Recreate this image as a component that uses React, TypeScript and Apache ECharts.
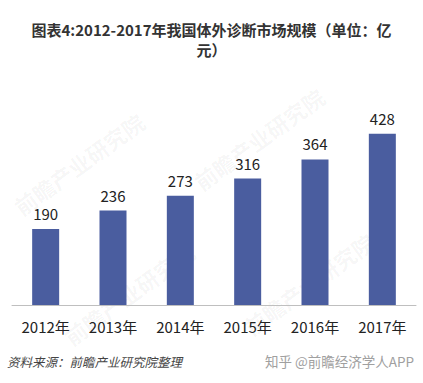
import React, { useEffect, useRef } from "react";
import * as echarts from "echarts";

const categories = ["2012年", "2013年", "2014年", "2015年", "2016年", "2017年"];
const values = [190, 236, 273, 316, 364, 428];
const titleText = "图表4:2012-2017年我国体外诊断市场规模（单位：亿\n元）";
const sourceText = "资料来源：前瞻产业研究院整理";
const creditText = "知乎 @前瞻经济学人APP";
const watermarkText = "前瞻产业研究院";

export default function App() {
  const ref = useRef<HTMLDivElement>(null);
  useEffect(() => {
    if (!ref.current) return;
    const chart = echarts.init(ref.current, null, { renderer: "svg" });
    const font = "'Noto Sans CJK SC', 'Noto Sans', sans-serif";
    const wm = (x: number, y: number) => ({
      type: "text",
      x,
      y,
      rotation: Math.PI / 5,
      silent: true,
      z: -10,
      style: {
        text: watermarkText,
        fill: "rgba(0,0,0,0.045)",
        font: `bold 22px ${font}`,
      },
    });
    chart.setOption({
      animation: false,
      backgroundColor: "#ffffff",
      title: {
        text: titleText,
        left: "center",
        top: 14,
        textStyle: {
          fontFamily: font,
          fontWeight: "bold",
          fontSize: 15,
          color: "#333333",
          lineHeight: 20,
          align: "center",
        },
      },
      grid: { left: 12, right: 7, top: 105, bottom: 78, containLabel: false },
      xAxis: {
        type: "category",
        data: categories,
        axisLine: { show: true, lineStyle: { color: "#bfbfbf", width: 1 } },
        axisTick: { show: false },
        axisLabel: {
          fontFamily: font,
          fontSize: 15,
          color: "#222222",
          margin: 14,
        },
      },
      yAxis: {
        type: "value",
        min: 0,
        max: 500,
        show: false,
        splitLine: { show: false },
      },
      series: [
        {
          type: "bar",
          data: values,
          barWidth: 27,
          itemStyle: { color: "#4a5d9f" },
          label: {
            show: true,
            position: "top",
            distance: 8,
            fontFamily: font,
            fontSize: 15,
            color: "#222222",
          },
        },
      ],
      graphic: [
        wm(10, 200),
        wm(190, 175),
        wm(60, 330),
        wm(240, 320),
        {
          type: "text",
          left: 7,
          top: 355,
          style: {
            text: sourceText,
            fill: "#444444",
            font: `italic 12.5px ${font}`,
          },
        },
        {
          type: "text",
          right: 9,
          top: 354,
          style: {
            text: creditText,
            fill: "#a0a0a0",
            font: `13.5px ${font}`,
          },
        },
      ],
    });
    return () => chart.dispose();
  }, []);
  return <div ref={ref} style={{ width: 423, height: 383, position: "absolute", left: 0, top: 0 }} />;
}
